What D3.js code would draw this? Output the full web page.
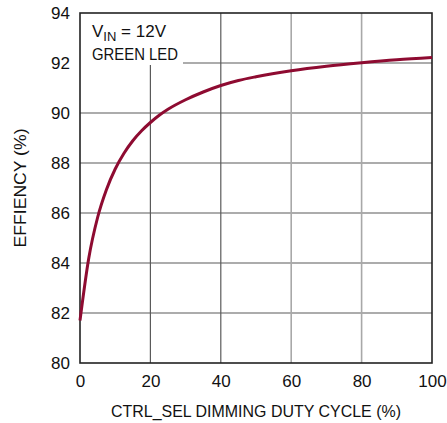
<!DOCTYPE html>
<html>
<head>
<meta charset="utf-8">
<script src="https://cdn.jsdelivr.net/npm/d3@7"></script>
<style>
  html, body { margin: 0; padding: 0; background: #fff; }
  svg text { font-family: "Liberation Sans", Arial, sans-serif; fill: #111; }
</style>
</head>
<body>
<svg id="chart" width="447" height="423"></svg>
<script>
// Efficiency vs. CTRL_SEL dimming duty cycle, VIN = 12V, green LED
const dutyCycle = [0, 2.5, 5, 7.5, 10, 12.5, 15, 17.5, 20, 22.5, 25, 30, 35, 40, 45, 50, 60, 70, 80, 90, 100];
const efficiency = [81.7, 84.2, 85.82, 86.93, 87.76, 88.39, 88.89, 89.29, 89.62, 89.91, 90.15, 90.53, 90.84, 91.1, 91.3, 91.45, 91.69, 91.87, 92.01, 92.13, 92.22];
const xTicks = [0, 20, 40, 60, 80, 100];
const yTicks = [80, 82, 84, 86, 88, 90, 92, 94];

const svg = d3.select("#chart");
const margin = { left: 80, right: 15, top: 13, bottom: 60 };
const W = 447, H = 423;

const x = d3.scaleLinear().domain([0, 100]).range([margin.left, W - margin.right]);
const y = d3.scaleLinear().domain([80, 94]).range([H - margin.bottom, margin.top]);

// grid
const grid = svg.append("g");
grid.selectAll("line.h").data(yTicks.slice(1, -1)).join("line")
  .attr("x1", x(0)).attr("x2", x(100))
  .attr("y1", d => y(d)).attr("y2", d => y(d))
  .attr("stroke", "#5a5a5a").attr("stroke-width", 1.2);
grid.selectAll("line.v").data(xTicks.slice(1, -1)).join("line")
  .attr("x1", d => x(d)).attr("x2", d => x(d))
  .attr("y1", y(94)).attr("y2", y(80))
  .attr("stroke", d => d >= 60 ? "#a8a8a8" : "#5a5a5a")
  .attr("stroke-width", d => d >= 60 ? 1.6 : 1.2);

// white panel behind the condition note
svg.append("rect")
  .attr("x", x(0)).attr("y", y(94))
  .attr("width", 103).attr("height", 52)
  .attr("fill", "#fff");

// axes with labels only (frame drawn separately)
const xAxis = d3.axisBottom(x).tickValues(xTicks).tickSize(0).tickPadding(12);
const gx = svg.append("g").attr("transform", `translate(0,${y(80)})`).call(xAxis);
gx.select(".domain").remove();
gx.selectAll("text").style("font-size", "17px").attr("fill", "#111");

const yAxis = d3.axisLeft(y).tickValues(yTicks).tickSize(0).tickPadding(10);
const gy = svg.append("g").attr("transform", `translate(${x(0)},0)`).call(yAxis);
gy.select(".domain").remove();
gy.selectAll("text").style("font-size", "17px").attr("fill", "#111");

// frame
svg.append("rect")
  .attr("x", x(0)).attr("y", y(94))
  .attr("width", x(100) - x(0)).attr("height", y(80) - y(94))
  .attr("fill", "none").attr("stroke", "#222").attr("stroke-width", 1.6);

// efficiency curve
const line = d3.line()
  .x((d, i) => x(dutyCycle[i]))
  .y(d => y(d))
  .curve(d3.curveMonotoneX);
svg.append("path")
  .datum(efficiency)
  .attr("d", line)
  .attr("fill", "none")
  .attr("stroke", "#8e0b31")
  .attr("stroke-width", 3)
  .attr("stroke-linecap", "butt");

// condition note
const note = svg.append("text").attr("x", 92).attr("y", 37).style("font-size", "17px");
note.append("tspan").text("V");
note.append("tspan").attr("dy", 4).style("font-size", "13px").text("IN");
note.append("tspan").attr("dy", -4).text(" = 12V");
svg.append("text").attr("x", 92).attr("y", 60).style("font-size", "17px")
  .attr("textLength", 86).attr("lengthAdjust", "spacingAndGlyphs")
  .text("GREEN LED");

// axis titles
svg.append("text")
  .attr("x", (x(0) + x(100)) / 2).attr("y", 417)
  .attr("text-anchor", "middle").style("font-size", "17px")
  .attr("textLength", 290).attr("lengthAdjust", "spacingAndGlyphs")
  .text("CTRL_SEL DIMMING DUTY CYCLE (%)");
svg.append("text")
  .attr("transform", `translate(26,${(y(80) + y(94)) / 2}) rotate(-90)`)
  .attr("text-anchor", "middle").style("font-size", "17px")
  .attr("textLength", 119).attr("lengthAdjust", "spacingAndGlyphs")
  .text("EFFIENCY (%)");
</script>
</body>
</html>
